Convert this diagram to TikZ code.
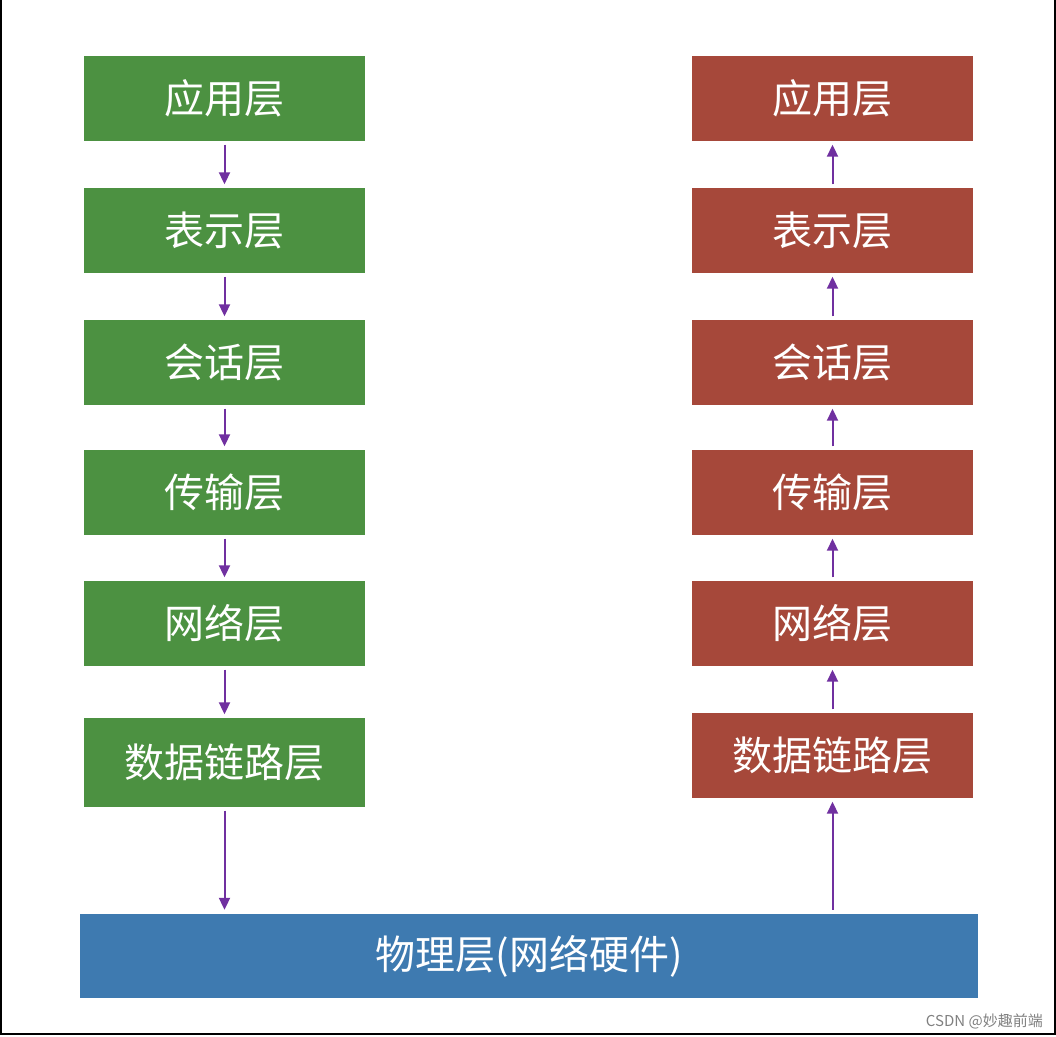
\documentclass[tikz,border=0pt]{standalone}
\usepackage{fontspec}
\setmainfont{Noto Sans CJK SC}
\usetikzlibrary{arrows.meta}
\definecolor{gbox}{RGB}{76,145,65}
\definecolor{rbox}{RGB}{166,72,58}
\definecolor{bbox}{RGB}{62,122,176}
\definecolor{arr}{RGB}{112,48,160}
\begin{document}
\begin{tikzpicture}[x=1pt,y=-1pt,
  layer/.style={minimum width=281pt,minimum height=85pt,inner sep=0pt,text=white,font=\fontsize{40}{40}\selectfont},
  link/.style={arr,line width=2pt,-{Triangle[length=12pt,width=11pt]}}]
\useasboundingbox (0,0) rectangle (1056,1036);
\draw[line width=2pt] (1,0) -- (1,1034) -- (1055,1034) -- (1055,0);
\foreach \n/\t/\y in {1/应用层/98,2/表示层/230,3/会话层/362,4/传输层/492,5/网络层/623}{
  \node[layer,fill=gbox] (l\n) at (224.5,\y) {\t};
  \node[layer,fill=rbox] (r\n) at (832.5,\y) {\t};
}
\node[layer,fill=gbox,minimum height=89pt] (l6) at (224.5,762) {数据链路层};
\node[layer,fill=rbox] (r6) at (832.5,755) {数据链路层};
\node[layer,fill=bbox,minimum width=898pt,minimum height=84pt] (p) at (529,956) {物理层(网络硬件)};
\foreach \a/\b in {1/2,2/3,3/4,4/5,5/6}{
  \draw[link,shorten <=4pt,shorten >=3pt] (l\a.south) -- (l\b.north);
  \draw[link,shorten <=3pt,shorten >=4pt] (r\b.north) -- (r\a.south);
}
\draw[link,shorten <=4pt,shorten >=4pt] (l6.south) -- (l6.south |- p.north);
\draw[link,shorten <=4pt,shorten >=4pt] (r6.south |- p.north) -- (r6.south);
\node[anchor=south east,text=gray,font=\fontsize{15}{15}\selectfont,inner sep=2pt] (wm) at (1045,1031) {CSDN @妙趣前端};
\end{tikzpicture}
\end{document}
